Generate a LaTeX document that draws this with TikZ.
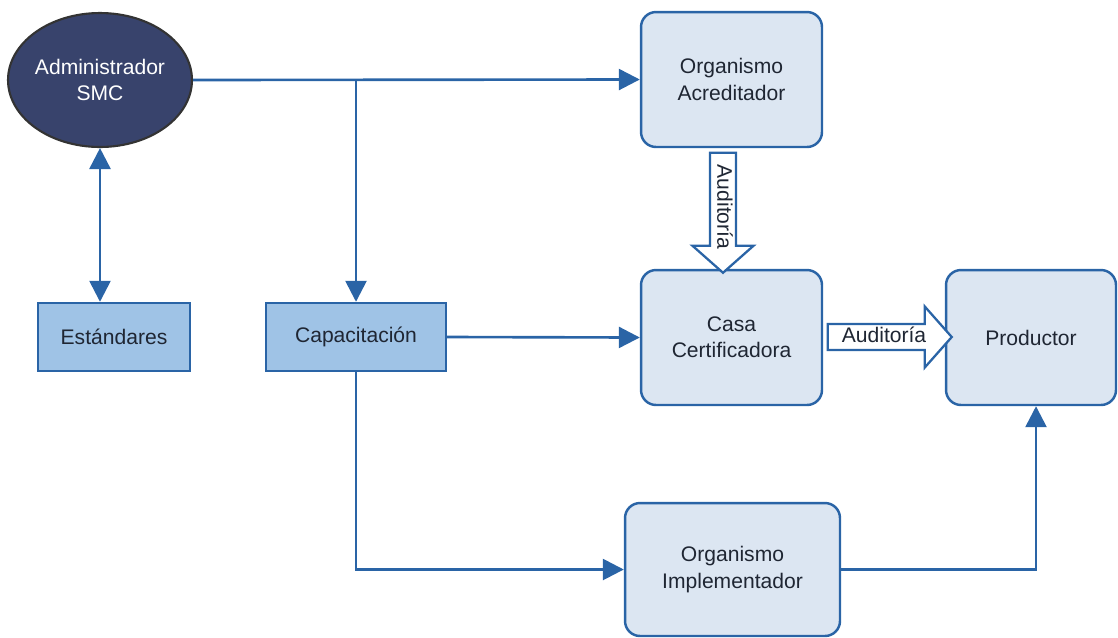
\documentclass[tikz,border=0pt]{standalone}
\usepackage{fontspec}
\setmainfont{Liberation Sans}
\usetikzlibrary{arrows.meta,shapes.geometric,shapes.arrows}
\definecolor{lineblue}{HTML}{2A64A6}
\definecolor{boxfill}{HTML}{DCE6F2}
\definecolor{rectfill}{HTML}{9FC3E6}
\definecolor{navy}{HTML}{38436C}
\definecolor{txt}{HTML}{1F2633}
\tikzset{
  every node/.style={font=\fontsize{12}{15}\selectfont, text=txt, align=center},
  roundbox/.style={draw=lineblue, fill=boxfill, line width=1.4pt, rounded corners=0.3cm},
  flatbox/.style={draw=lineblue, fill=rectfill, line width=1.4pt},
  audit/.style={single arrow, draw=lineblue, fill=white, line width=1.3pt,
    text height=9pt, text depth=2.5pt, inner ysep=1pt, inner xsep=1pt,
    single arrow head extend=0.35cm, single arrow tip angle=97},
  link/.style={->, draw=lineblue, line width=1.5pt}
}
\begin{document}
\begin{tikzpicture}[>={Triangle[length=0.42cm, width=0.42cm]}, x=0.02cm, y=-0.02cm]
		\useasboundingbox (0,0) rectangle (1118,637);
		% nodos
		\node[ellipse, draw=black!80, fill=navy, line width=1.2pt, inner sep=0pt, minimum width=3.68cm, minimum height=2.68cm, text=white] (admin) at (100,80) {Administrador\\SMC};
		\node[flatbox, minimum width=3.04cm, minimum height=1.36cm] (estan) at (114,337) {Estándares};
		\node[flatbox, minimum width=3.6cm, minimum height=1.36cm] (capac) at (356,337) {Capacitación};
		\node[roundbox, minimum width=3.62cm, minimum height=2.7cm] (acred) at (731.5,79.5) {Organismo\\Acreditador};
		\node[roundbox, minimum width=3.62cm, minimum height=2.7cm] (casa) at (731.5,337.5) {Casa\\Certificadora};
		\node[roundbox, minimum width=3.4cm, minimum height=2.7cm] (prod) at (1031,337.5) {Productor};
		\node[roundbox, minimum width=4.3cm, minimum height=2.66cm] (impl) at (732.5,569.5) {Organismo\\Implementador};
		% auditorias
		\node[audit, rotate=-90, minimum height=2.4cm] (audv) at (723,207) {Auditoría};
		\node[audit, minimum height=2.48cm] (audh) at (884,337) {Auditoría};
		% conexiones
		\draw[link] (admin.east) -- (acred.west);
		\draw[link] (admin.east -| capac.north) -- (capac.north);
		\draw[link, <->] (admin.south) -- (admin.south |- estan.north);
		\draw[link] (capac.east) -- (casa.west);
		\draw[link] (capac.south) |- (impl.west);
		\draw[link] (impl.east) -| ([xshift=0.1cm]prod.south);
\end{tikzpicture}
\end{document}
